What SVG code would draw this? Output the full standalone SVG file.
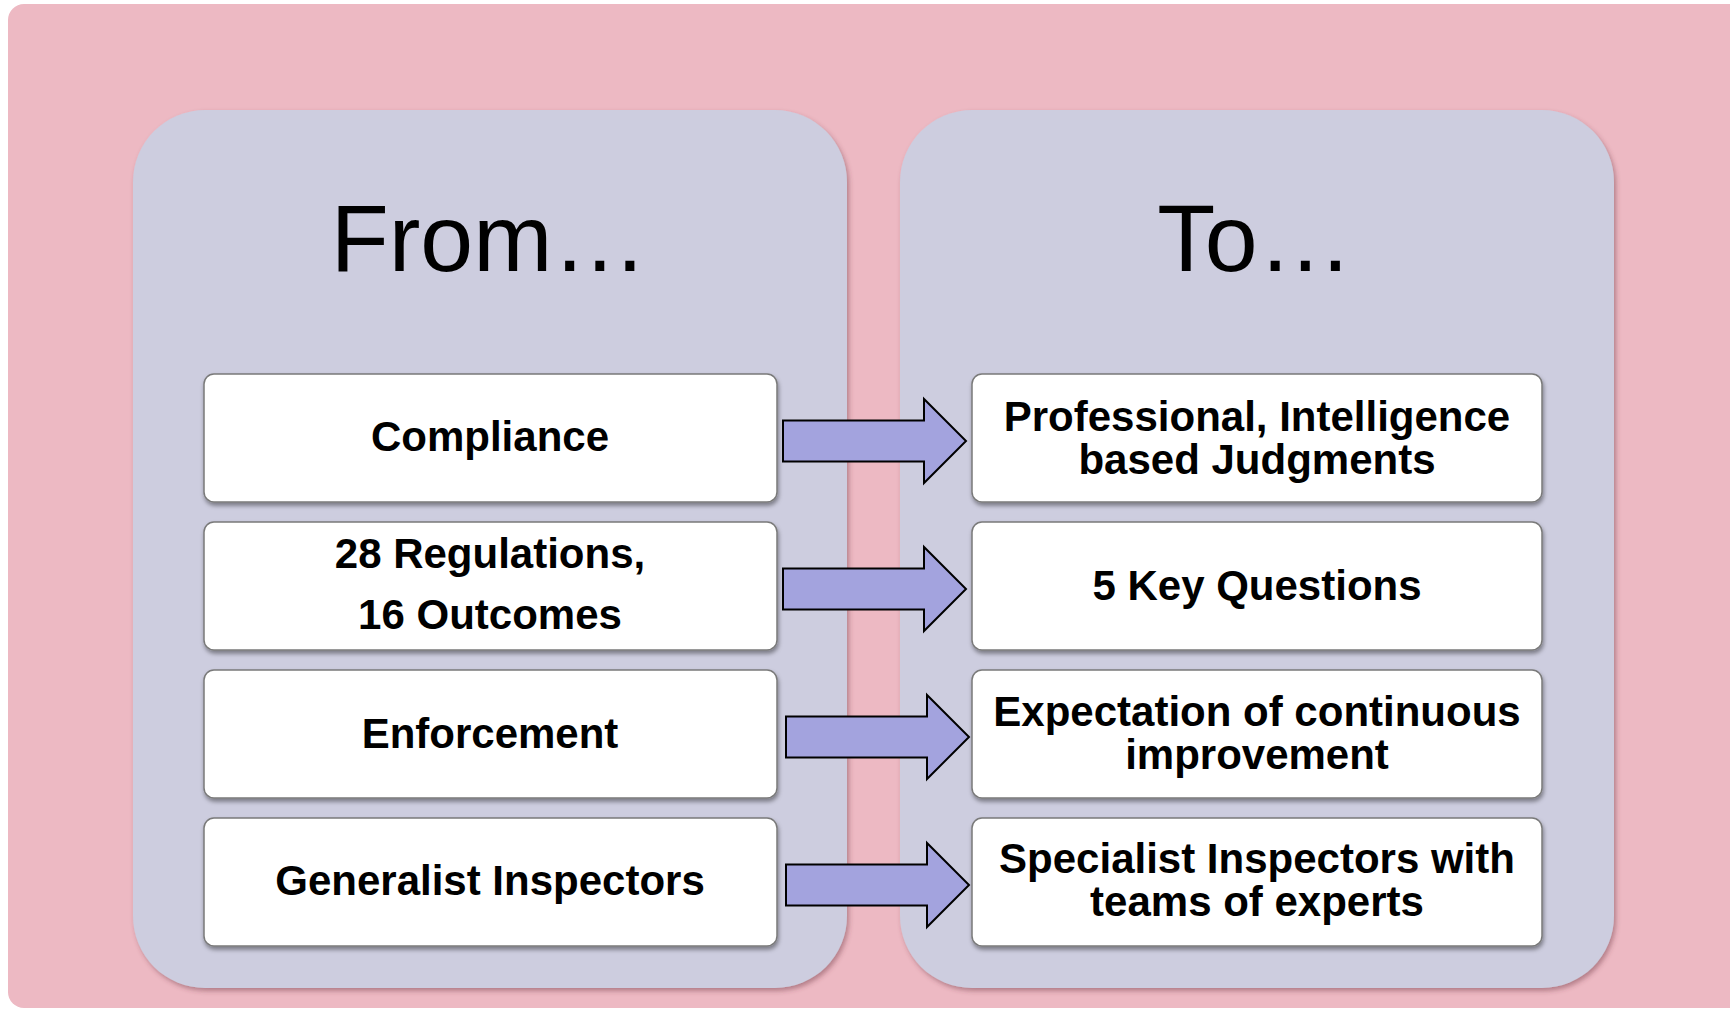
<svg xmlns="http://www.w3.org/2000/svg" width="1730" height="1009" viewBox="0 0 1730 1009">
<defs>
<filter id="sh" x="-5%" y="-5%" width="110%" height="115%"><feDropShadow dx="1" dy="3" stdDeviation="2" flood-color="#000" flood-opacity="0.4"/></filter>
<filter id="psh" x="-5%" y="-5%" width="110%" height="110%"><feDropShadow dx="2" dy="3" stdDeviation="2.5" flood-color="#6a3040" flood-opacity="0.45"/></filter>
<style>
.panel{fill:#cdcddf;filter:url(#psh)}
.box{fill:#ffffff;stroke:#7a7a7a;stroke-width:1.5;filter:url(#sh)}
.arrow{fill:#a3a3de;stroke:#000;stroke-width:2;stroke-linejoin:miter}
.t{font-family:"Liberation Sans",Arial,sans-serif;font-weight:bold;font-size:42px;fill:#000;text-anchor:middle}
.h{font-family:"Liberation Sans",Arial,sans-serif;font-size:95px;fill:#000;text-anchor:middle}
</style>
</defs>
<rect x="0" y="0" width="1730" height="1009" fill="#ffffff"/>
<rect x="8" y="4" width="1760" height="1004" rx="16" fill="#edb9c3"/>
<g id="panel-from"><rect class="panel" x="133" y="110" width="714" height="878" rx="72"/><text class="h" x="489" y="271">From…</text></g>
<g id="panel-to"><rect class="panel" x="900" y="110" width="714" height="878" rx="72"/><text class="h" x="1255" y="271">To…</text></g>
<g id="connectors">
<path class="arrow" d="M783 420.5H924V399L966 441L924 483V461.5H783Z"/>
<path class="arrow" d="M783 568.5H924V547L966 589L924 631V609.5H783Z"/>
<path class="arrow" d="M786 716.5H927V695L969 737L927 779V757.5H786Z"/>
<path class="arrow" d="M786 864.5H927V843L969 885L927 927V905.5H786Z"/>
</g>
<g id="from-1"><rect class="box" x="204" y="374" width="573" height="128" rx="10"/><text class="t" x="490" y="451">Compliance</text></g>
<g id="from-2"><rect class="box" x="204" y="522" width="573" height="128" rx="10"/><text class="t" x="490" y="568">28 Regulations,</text><text class="t" x="490" y="629">16 Outcomes</text></g>
<g id="from-3"><rect class="box" x="204" y="670" width="573" height="128" rx="10"/><text class="t" x="490" y="748">Enforcement</text></g>
<g id="from-4"><rect class="box" x="204" y="818" width="573" height="128" rx="10"/><text class="t" x="490" y="895">Generalist Inspectors</text></g>
<g id="to-1"><rect class="box" x="972" y="374" width="570" height="128" rx="10"/><text class="t" x="1257" y="431">Professional, Intelligence</text><text class="t" x="1257" y="474">based Judgments</text></g>
<g id="to-2"><rect class="box" x="972" y="522" width="570" height="128" rx="10"/><text class="t" x="1257" y="600">5 Key Questions</text></g>
<g id="to-3"><rect class="box" x="972" y="670" width="570" height="128" rx="10"/><text class="t" x="1257" y="726">Expectation of continuous</text><text class="t" x="1257" y="769">improvement</text></g>
<g id="to-4"><rect class="box" x="972" y="818" width="570" height="128" rx="10"/><text class="t" x="1257" y="873">Specialist Inspectors with</text><text class="t" x="1257" y="916">teams of experts</text></g>
</svg>
